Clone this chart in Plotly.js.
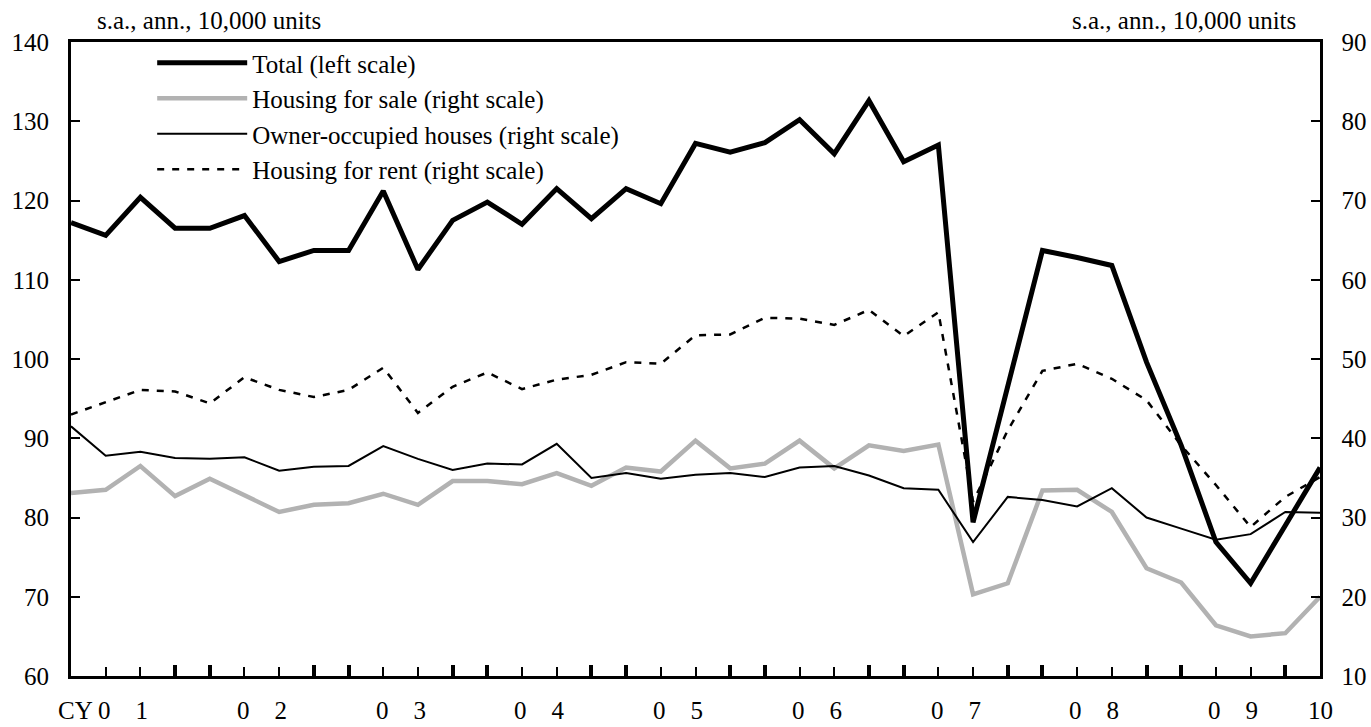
<!DOCTYPE html>
<html>
<head>
<meta charset="utf-8">
<script src="https://cdn.plot.ly/plotly-3.0.1.min.js"></script>
<style>html,body{margin:0;padding:0;background:#fff;}#chart{width:1371px;height:727px;}</style>
</head>
<body>
<div id="chart"></div>
<script>
// Quarters (CY2001 Q1 - CY2010 Q1)
const quarters = [
  "2001Q1","2001Q2","2001Q3","2001Q4",
  "2002Q1","2002Q2","2002Q3","2002Q4",
  "2003Q1","2003Q2","2003Q3","2003Q4",
  "2004Q1","2004Q2","2004Q3","2004Q4",
  "2005Q1","2005Q2","2005Q3","2005Q4",
  "2006Q1","2006Q2","2006Q3","2006Q4",
  "2007Q1","2007Q2","2007Q3","2007Q4",
  "2008Q1","2008Q2","2008Q3","2008Q4",
  "2009Q1","2009Q2","2009Q3","2009Q4",
  "2010Q1"
];

// Total (left scale)
const total = [117.2,115.6,120.4,116.5,116.5,118.1,112.3,113.7,113.7,121.2,111.3,117.5,
  119.8,117.0,121.5,117.7,121.5,119.6,127.2,126.1,127.3,130.2,125.9,132.6,
  124.9,127.0,79.4,96.5,113.7,112.8,111.8,99.6,89.1,76.9,71.7,79.0,86.3];

// Housing for sale (right scale)
const forSale = [33.1,33.5,36.5,32.7,34.9,32.8,30.7,31.6,31.8,33.0,31.6,34.6,
  34.6,34.2,35.6,34.0,36.3,35.8,39.7,36.2,36.8,39.7,36.2,39.1,
  38.4,39.2,20.3,21.7,33.4,33.5,30.7,23.6,21.8,16.4,15.0,15.4,20.0];

// Owner-occupied houses (right scale)
const ownerOccupied = [41.5,37.8,38.3,37.5,37.4,37.6,35.9,36.4,36.5,39.0,37.4,36.0,
  36.8,36.7,39.3,35.0,35.6,34.9,35.4,35.6,35.1,36.3,36.5,35.3,
  33.7,33.5,26.9,32.6,32.2,31.4,33.7,30.0,28.6,27.2,27.9,30.7,30.6];

// Housing for rent (right scale)
const forRent = [43.0,44.5,46.1,45.9,44.4,47.7,46.1,45.2,46.1,48.9,43.2,46.5,
  48.3,46.2,47.4,48.0,49.6,49.4,53.0,53.1,55.2,55.1,54.3,56.2,
  52.9,55.9,32.0,41.0,48.5,49.4,47.5,44.8,39.1,34.1,28.8,32.6,35.1];

// Year tick labels
const years = ["2001","2002","2003","2004","2005","2006","2007","2008","2009","2010"];
const yearLabels = ["0\u20031","0\u20032","0\u20033","0\u20034","0\u20035","0\u20036","0\u20037","0\u20038","0\u20039","10"];

const unitText = "s.a., ann., 10,000 units";
const seriesNames = ["Total (left scale)","Housing for sale (right scale)","Owner-occupied houses (right scale)","Housing for rent (right scale)"];

const FONT = "'Liberation Serif', 'Times New Roman', serif";
const FS = 25;

const xIdx = quarters.map((q, i) => i);
const majorTicks = xIdx.filter(i => /Q1|Q4/.test(quarters[i]));

const traces = [
  {x: xIdx, y: forSale, yaxis: 'y2', name: seriesNames[1], mode: 'lines',
   line: {color: '#b2b2b2', width: 4.5}, legendrank: 2},
  {x: xIdx, y: ownerOccupied, yaxis: 'y2', name: seriesNames[2], mode: 'lines',
   line: {color: '#000', width: 2}, legendrank: 3},
  {x: xIdx, y: forRent, yaxis: 'y2', name: seriesNames[3], mode: 'lines',
   line: {color: '#000', width: 2.5, dash: '7px,8px'}, legendrank: 4},
  {x: xIdx, y: total, yaxis: 'y', name: seriesNames[0], mode: 'lines',
   line: {color: '#000', width: 5}, legendrank: 1}
];

const annotations = years.map((yr, k) => {
  const idx = xIdx.filter(i => quarters[i].startsWith(yr));
  const c = idx.reduce((a, b) => a + b, 0) / idx.length;
  return {x: c, xref: 'x', y: 0, yref: 'paper', yanchor: 'top', yshift: -19,
    text: yearLabels[k], showarrow: false, font: {family: FONT, size: FS, color: '#000'}};
});
annotations.push({x: 0, xref: 'paper', y: 0, yref: 'paper', yanchor: 'top', yshift: -19,
  xanchor: 'center', xshift: 4, text: 'CY', showarrow: false, font: {family: FONT, size: FS, color: '#000'}});
annotations.push({x: 0, xref: 'paper', y: 1, yref: 'paper', yanchor: 'bottom', xanchor: 'left', xshift: 24, yshift: 6,
  text: unitText, showarrow: false, font: {family: FONT, size: FS, color: '#000'}});
annotations.push({x: 1, xref: 'paper', y: 1, yref: 'paper', yanchor: 'bottom', xanchor: 'right', xshift: -22, yshift: 6,
  text: unitText, showarrow: false, font: {family: FONT, size: FS, color: '#000'}});

const layout = {
  width: 1371, height: 727,
  margin: {l: 71, r: 51, t: 42, b: 51},
  paper_bgcolor: '#fff', plot_bgcolor: '#fff',
  font: {family: FONT, size: FS, color: '#000'},
  showlegend: true,
  legend: {x: 0.065, y: 1.003, xanchor: 'left', yanchor: 'top', bgcolor: 'rgba(0,0,0,0)',
    itemwidth: 90, tracegroupgap: 0, font: {family: FONT, size: FS, color: '#000'}},
  xaxis: {range: [0, xIdx.length - 1], showgrid: false, zeroline: false,
    showline: true, linewidth: 3, linecolor: '#000', mirror: true,
    tickmode: 'array', tickvals: majorTicks, showticklabels: false,
    ticks: 'inside', ticklen: 11, tickwidth: 4, tickcolor: '#000',
    minor: {tickmode: 'linear', tick0: 0, dtick: 1, ticks: 'inside', ticklen: 9, tickwidth: 2, tickcolor: '#000'}},
  yaxis: {range: [60, 140], dtick: 10, tick0: 60, showgrid: false, zeroline: false,
    showline: true, linewidth: 3, linecolor: '#000',
    ticks: 'inside', ticklen: 9, tickwidth: 2, tickcolor: '#000', ticklabelstandoff: 14,
    tickfont: {family: FONT, size: FS, color: '#000'}},
  yaxis2: {range: [10, 90], dtick: 10, tick0: 10, overlaying: 'y', side: 'right',
    showgrid: false, zeroline: false, showline: true, linewidth: 2.5, linecolor: '#000',
    ticks: 'inside', ticklen: 9, tickwidth: 2, tickcolor: '#000', ticklabelstandoff: 14,
    tickfont: {family: FONT, size: FS, color: '#000'}},
  annotations: annotations
};

Plotly.newPlot('chart', traces, layout, {displayModeBar: false, staticPlot: true});
</script>
</body>
</html>
